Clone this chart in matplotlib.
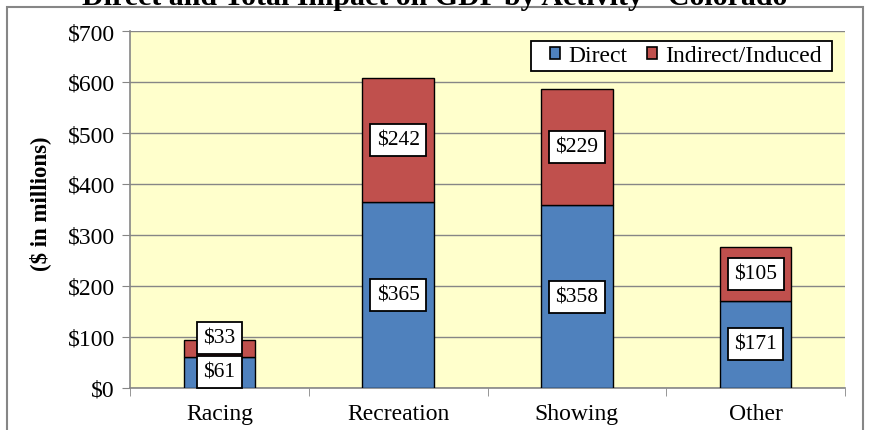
import numpy as np
import matplotlib.pyplot as plt
from matplotlib.patches import Rectangle
from matplotlib.ticker import FuncFormatter, FixedLocator

plt.rcParams['font.family'] = ['Liberation Serif', 'DejaVu Serif']

activities = ['Racing', 'Recreation', 'Showing', 'Other']
direct = [61, 365, 358, 171]
indirect = [33, 242, 229, 105]

blue = '#4F81BD'
red = '#C0504D'
grid_gray = '#868686'

fig = plt.figure(figsize=(8.7, 4.31), dpi=100)
ax = fig.add_axes([130 / 870, 42 / 431, 715 / 870, 357 / 431])
ax.set_facecolor('#FFFFCC')

x = np.arange(len(activities))
ax.bar(x, direct, width=0.4, color=blue, edgecolor='black', linewidth=1,
       label='Direct', zorder=3)
ax.bar(x, indirect, width=0.4, bottom=direct, color=red, edgecolor='black',
       linewidth=1, label='Indirect/Induced', zorder=3)

box = dict(boxstyle='square,pad=0.3', facecolor='white', edgecolor='black',
           linewidth=1.3)
for i, (d, n) in enumerate(zip(direct, indirect)):
    ax.text(i, d / 2, f'${d}', ha='center', va='center', fontsize=15.5,
            bbox=box, zorder=5)
    y_ind = d + n / 2
    # keep the small segment's label clear of the one below it
    if y_ind - d / 2 < 68:
        y_ind = d / 2 + 68
    ax.text(i, y_ind, f'${n}', ha='center', va='center', fontsize=15.5,
            bbox=box, zorder=5)

ax.set_xlim(-0.5, len(activities) - 0.5)
ax.set_ylim(0, 700)
ax.set_yticks(np.arange(0, 701, 100))
ax.yaxis.set_major_formatter(FuncFormatter(lambda v, p: f'${v:.0f}'))
ax.grid(axis='y', color=grid_gray, linewidth=1, zorder=0)

ax.set_xticks(x)
ax.set_xticklabels(activities, fontsize=17)
ax.xaxis.set_minor_locator(FixedLocator(np.arange(-0.5, len(activities), 1)))
ax.tick_params(axis='x', which='major', length=0, pad=11)
ax.tick_params(axis='x', which='minor', length=6, color=grid_gray, direction='out')
ax.tick_params(axis='y', length=6, color=grid_gray, labelsize=17, pad=5)

for side in ['top', 'right']:
    ax.spines[side].set_visible(False)
for side in ['left', 'bottom']:
    ax.spines[side].set_color(grid_gray)
    ax.spines[side].set_linewidth(1.2)

ax.set_ylabel('($ in millions)', fontsize=16.5, fontweight='bold')
ax.yaxis.set_label_coords(-0.11, 0.52)

# legend entries without their own frame; the box is drawn around them below
leg = ax.legend(loc='upper right', ncol=2, fontsize=17, frameon=False,
                handlelength=0.45, handleheight=0.45, handletextpad=0.35,
                columnspacing=0.8, borderpad=0, borderaxespad=0,
                bbox_to_anchor=(0.968, 0.96))
for h in leg.legend_handles:
    h.set_edgecolor('black')
    h.set_linewidth(1.2)
leg.set_zorder(7)

fig.canvas.draw()
lb = leg.get_window_extent()
fw, fh = fig.bbox.width, fig.bbox.height
cy = (lb.y0 + lb.y1) / 2
ax.add_patch(Rectangle(((lb.x0 - 19) / fw, (cy - 15) / fh),
                       (lb.width + 29) / fw, 30 / fh,
                       transform=fig.transFigure, facecolor='white',
                       edgecolor='black', linewidth=1.3, zorder=6,
                       clip_on=False))

fig.text(0.5, 1 - 5 / 431, 'Direct and Total Impact on GDP by Activity - Colorado',
         ha='center', va='baseline', fontsize=21.5, fontweight='bold')

fig.patches.append(Rectangle((7 / 870, -0.01), 856 / 870, 1 - 8 / 431 + 0.01,
                             transform=fig.transFigure, fill=False,
                             edgecolor=grid_gray, linewidth=1.5))

fig.savefig('out.png', dpi=100)
